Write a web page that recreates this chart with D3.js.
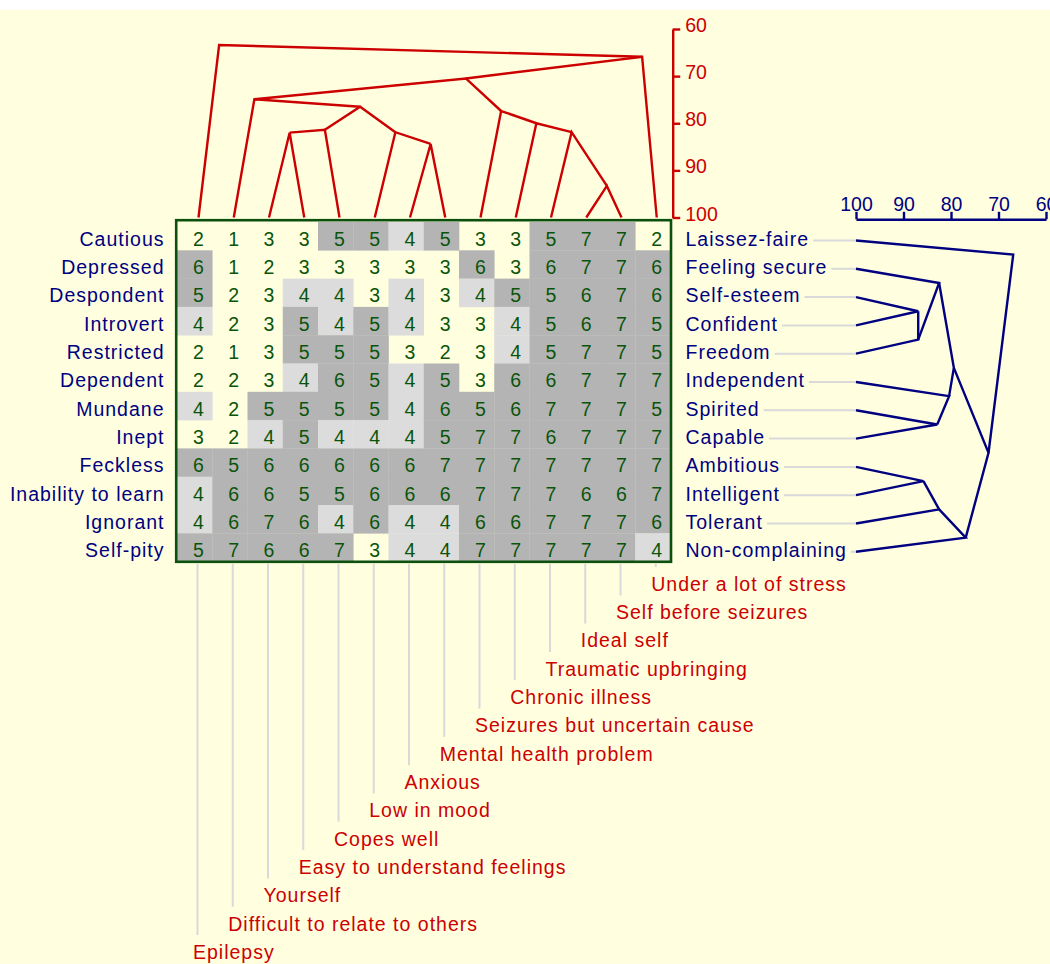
<!DOCTYPE html>
<html>
<head>
<meta charset="utf-8">
<script src="https://cdn.jsdelivr.net/npm/d3@7/dist/d3.min.js"></script>
<style>
  html, body { margin: 0; padding: 0; background: #ffffff; }
  svg { display: block; }
</style>
</head>
<body>
<svg id="chart" width="1050" height="964"></svg>
<script>
// Elements (columns), shown along the bottom in the focused order
const elements = [
  "Epilepsy", "Difficult to relate to others", "Yourself",
  "Easy to understand feelings", "Copes well", "Low in mood", "Anxious",
  "Mental health problem", "Seizures but uncertain cause", "Chronic illness",
  "Traumatic upbringing", "Ideal self", "Self before seizures",
  "Under a lot of stress"
];

// Construct poles (rows): rating 1 = left pole, 7 = right pole
const leftPoles = [
  "Cautious", "Depressed", "Despondent", "Introvert", "Restricted",
  "Dependent", "Mundane", "Inept", "Feckless", "Inability to learn",
  "Ignorant", "Self-pity"
];
const rightPoles = [
  "Laissez-faire", "Feeling secure", "Self-esteem", "Confident", "Freedom",
  "Independent", "Spirited", "Capable", "Ambitious", "Intelligent",
  "Tolerant", "Non-complaining"
];

// Ratings, one row per construct, one value per element
const ratings = [
  [2, 1, 3, 3, 5, 5, 4, 5, 3, 3, 5, 7, 7, 2],
  [6, 1, 2, 3, 3, 3, 3, 3, 6, 3, 6, 7, 7, 6],
  [5, 2, 3, 4, 4, 3, 4, 3, 4, 5, 5, 6, 7, 6],
  [4, 2, 3, 5, 4, 5, 4, 3, 3, 4, 5, 6, 7, 5],
  [2, 1, 3, 5, 5, 5, 3, 2, 3, 4, 5, 7, 7, 5],
  [2, 2, 3, 4, 6, 5, 4, 5, 3, 6, 6, 7, 7, 7],
  [4, 2, 5, 5, 5, 5, 4, 6, 5, 6, 7, 7, 7, 5],
  [3, 2, 4, 5, 4, 4, 4, 5, 7, 7, 6, 7, 7, 7],
  [6, 5, 6, 6, 6, 6, 6, 7, 7, 7, 7, 7, 7, 7],
  [4, 6, 6, 5, 5, 6, 6, 6, 7, 7, 7, 6, 6, 7],
  [4, 6, 7, 6, 4, 6, 4, 4, 6, 6, 7, 7, 7, 6],
  [5, 7, 6, 6, 7, 3, 4, 4, 7, 7, 7, 7, 7, 4]
];

// Element clustering: [childA, childB, % similarity]; leaves are 0..13,
// the k-th merge becomes node 14 + k
const elementMerges = [
  [2, 3, 82.0],
  [14, 4, 81.4],
  [6, 7, 84.4],
  [5, 16, 81.9],
  [15, 17, 76.5],
  [1, 18, 74.9],
  [11, 12, 93.3],
  [10, 20, 81.9],
  [9, 21, 80.0],
  [8, 22, 77.4],
  [19, 23, 70.5],
  [24, 13, 65.9],
  [0, 25, 63.4]
];

// Construct clustering: leaves are 0..11, the k-th merge becomes node 12 + k
const constructMerges = [
  [2, 3, 86.9],
  [12, 4, 86.9],
  [1, 13, 82.5],
  [6, 7, 82.9],
  [5, 15, 80.4],
  [14, 16, 79.4],
  [8, 9, 85.8],
  [18, 10, 82.5],
  [19, 11, 76.9],
  [17, 20, 72.1],
  [0, 21, 66.9]
];

const similarityTicks = [60, 70, 80, 90, 100];

// ---- styling
const FONT = "'Liberation Sans', Arial, sans-serif";
const FS = 19.5;
const LS = 1.0;
const RED = "#cc0000";
const NAVY = "#000080";
const GREEN = "#0a540a";
const BORDER = "#0d4f0d";
const DARK = "#b4b4b4";
const LIGHT = "#dcdcdc";
const CONNECT = "#d9d9d9";
const TREE_W = 2.4;

const svg = d3.select("#chart");

// background panel
svg.append("rect").attr("x", 0).attr("y", 10).attr("width", 1050).attr("height", 954)
  .attr("fill", "#ffffe0");

// ---- scales
const nCol = elements.length, nRow = leftPoles.length;
const cellX = d3.scaleBand().domain(d3.range(nCol)).range([177, 670.5]);
const cellY = d3.scaleBand().domain(d3.range(nRow)).range([222, 561.6]);
const colX = i => cellX(i) + 21.5;          // text / leaf position of a column
const rowY = j => cellY(j) + 17;            // text position of a row
const yTree = d3.scaleLinear().domain([60, 100]).range([29, 217.5]);
const xTree = d3.scaleLinear().domain([100, 60]).range([856, 1046]);
const yBottomLabel = d3.scaleLinear().domain([0, nCol - 1]).range([952, 584]);

const shade = v => v >= 5 ? DARK : (v === 4 ? LIGHT : "none");

// ---- grid cells
const cells = [];
ratings.forEach((row, j) => row.forEach((v, i) => cells.push({ i, j, v })));

svg.append("g").selectAll("rect").data(cells.filter(d => shade(d.v) !== "none")).join("rect")
  .attr("x", d => cellX(d.i)).attr("y", d => cellY(d.j))
  .attr("width", cellX.bandwidth() + 0.3).attr("height", cellY.bandwidth() + 0.3)
  .attr("fill", d => shade(d.v));

svg.append("g").selectAll("text").data(cells).join("text")
  .attr("x", d => colX(d.i)).attr("y", d => rowY(d.j)).attr("dy", "0.35em")
  .attr("text-anchor", "middle")
  .attr("font-family", FONT).attr("font-size", FS).attr("fill", GREEN)
  .text(d => d.v);

svg.append("rect").attr("x", 176.2).attr("y", 220.2).attr("width", 494.8).attr("height", 341.6)
  .attr("fill", "none").attr("stroke", BORDER).attr("stroke-width", 2.6);

// ---- connector lines to the pole labels and element labels
svg.append("g").selectAll("line").data(d3.range(nCol)).join("line")
  .attr("x1", i => colX(i) - 1).attr("x2", i => colX(i) - 1)
  .attr("y1", 563.5).attr("y2", i => yBottomLabel(i) - 17)
  .attr("stroke", CONNECT).attr("stroke-width", 2);

svg.append("g").selectAll("text").data(elements).join("text")
  .attr("x", (d, i) => colX(i) - 5.5).attr("y", (d, i) => yBottomLabel(i)).attr("dy", "0.35em")
  .attr("font-family", FONT).attr("font-size", FS).attr("letter-spacing", LS)
  .attr("fill", RED).text(d => d);

svg.append("g").selectAll("text").data(leftPoles).join("text")
  .attr("x", 164.5).attr("y", (d, j) => rowY(j)).attr("dy", "0.35em")
  .attr("text-anchor", "end")
  .attr("font-family", FONT).attr("font-size", FS).attr("letter-spacing", LS)
  .attr("fill", NAVY).text(d => d);

const rightLabels = svg.append("g").selectAll("text").data(rightPoles).join("text")
  .attr("x", 685.5).attr("y", (d, j) => rowY(j)).attr("dy", "0.35em")
  .attr("font-family", FONT).attr("font-size", FS).attr("letter-spacing", LS)
  .attr("fill", NAVY).text(d => d);

const labelEnds = rightLabels.nodes().map(n => 685.5 + n.getComputedTextLength());
svg.append("g").selectAll("line").data(d3.range(nRow)).join("line")
  .attr("x1", j => labelEnds[j] + 4).attr("x2", xTree(100))
  .attr("y1", j => rowY(j) + 1.5).attr("y2", j => rowY(j) + 1.5)
  .attr("stroke", CONNECT).attr("stroke-width", 2);

// ---- dendrograms
// Each node sits at the boundary between its two children's leaf spans.
function buildTree(nLeaves, merges, leafPos, offset) {
  const nodes = d3.range(nLeaves).map(i => ({ lo: i, hi: i, pos: leafPos(i), level: 100 }));
  merges.forEach(([a, b, level]) => {
    const A = nodes[a], B = nodes[b];
    nodes.push({
      lo: Math.min(A.lo, B.lo), hi: Math.max(A.hi, B.hi), level,
      pos: (leafPos(A.hi) + leafPos(B.lo)) / 2 + offset,
      kids: [A, B]
    });
  });
  return nodes.filter(n => n.kids);
}

const topNodes = buildTree(nCol, elementMerges, colX, 3);
const topLine = d3.line().x(d => d.pos).y(d => yTree(d.level));
svg.append("g").selectAll("path").data(topNodes).join("path")
  .attr("d", n => topLine([n.kids[0], n, n.kids[1]]))
  .attr("fill", "none").attr("stroke", RED).attr("stroke-width", TREE_W)
  .attr("stroke-linejoin", "miter");

const sideNodes = buildTree(nRow, constructMerges, j => rowY(j) + 1.5, 0);
const sideLine = d3.line().x(d => xTree(d.level)).y(d => d.pos);
svg.append("g").selectAll("path").data(sideNodes).join("path")
  .attr("d", n => sideLine([n.kids[0], n, n.kids[1]]))
  .attr("fill", "none").attr("stroke", NAVY).attr("stroke-width", TREE_W)
  .attr("stroke-linejoin", "miter");

// ---- similarity axes
const topAxis = svg.append("g").attr("transform", "translate(672.7,0)")
  .call(d3.axisRight(yTree).tickValues(similarityTicks).tickSize(7.5).tickSizeOuter(0).tickPadding(5));
topAxis.attr("font-family", FONT).attr("font-size", FS);
topAxis.selectAll("path, line").attr("stroke", RED).attr("stroke-width", TREE_W);
topAxis.selectAll("text").attr("fill", RED).attr("dy", "0.13em");

const sideAxis = svg.append("g").attr("transform", "translate(0,219.3)")
  .call(d3.axisTop(xTree).tickValues(similarityTicks).tickSize(7.5).tickSizeOuter(0).tickPadding(1));
sideAxis.attr("font-family", FONT).attr("font-size", FS);
sideAxis.selectAll("path, line").attr("stroke", NAVY).attr("stroke-width", TREE_W);
sideAxis.selectAll("text").attr("fill", NAVY);
</script>
</body>
</html>
